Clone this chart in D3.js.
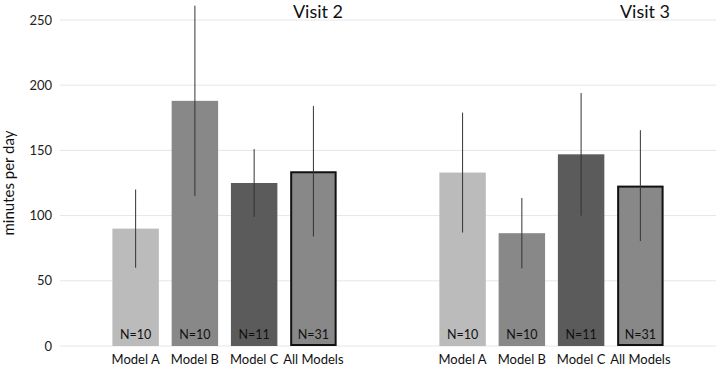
<!DOCTYPE html>
<html><head><meta charset="utf-8">
<script src="https://cdn.jsdelivr.net/npm/d3@7"></script>
<style>body{margin:0;background:#fff}svg{display:block;font-family:Lato,"Open Sans",sans-serif}</style>
</head><body><svg id="c" width="716" height="368"></svg>
<script>
const visits = ["Visit 2", "Visit 3"];
const models = ["Model A", "Model B", "Model C", "All Models"];
const means = { "Visit 2": [90, 188, 125, 134], "Visit 3": [133, 86.5, 147, 123] };
const errs  = { "Visit 2": [30, 73, 26, 50],    "Visit 3": [46, 27, 47, 42.5] };
const counts = { "Visit 2": ["N=10", "N=10", "N=11", "N=31"], "Visit 3": ["N=10", "N=10", "N=11", "N=31"] };
const yTicks = [0, 50, 100, 150, 200, 250];
const colors = ["#bbbbbb", "#888888", "#5b5b5b", "#888888"];

const svg = d3.select("#c");
const y = d3.scaleLinear().domain([0, 250]).range([346, 20]);
const x0 = d3.scaleBand().domain(visits).range([106, 670]).paddingInner(0.275).paddingOuter(0);
const x1 = d3.scaleBand().domain(models).range([0, x0.bandwidth()]).paddingInner(0.216).paddingOuter(0.108);

// grid
svg.append("g").selectAll("line").data(yTicks).join("line")
  .attr("x1", 60).attr("x2", 716).attr("y1", d => y(d)).attr("y2", d => y(d))
  .attr("stroke", "#e6e6e6").attr("stroke-width", 1);

// y axis labels
const yAxis = d3.axisLeft(y).tickValues(yTicks).tickSize(0).tickPadding(0);
const ya = svg.append("g").attr("transform", "translate(52,0)").call(yAxis);
ya.select(".domain").remove();
ya.selectAll("text").attr("font-size", 13).attr("fill", "#222").attr("font-family", "Lato, sans-serif");

svg.append("text").attr("transform", "translate(14," + y(125) + ") rotate(-90)")
  .attr("text-anchor", "middle").attr("font-size", 15).attr("fill", "#111").text("minutes per day");

visits.forEach(v => {
  const g = svg.append("g").attr("transform", "translate(" + x0(v) + ",0)");
  models.forEach((m, i) => {
    const bx = x1(m), bw = x1.bandwidth();
    const isAll = i === 3;
    g.append("rect").attr("x", bx + (isAll ? 1 : 0)).attr("y", y(means[v][i]) + (isAll ? 1 : 0))
      .attr("width", bw - (isAll ? 2 : 0)).attr("height", y(0) - y(means[v][i]) - (isAll ? 2 : 0))
      .attr("fill", colors[i]).attr("stroke", isAll ? "#111" : "none").attr("stroke-width", isAll ? 2 : 0);
    g.append("line").attr("x1", bx + bw / 2).attr("x2", bx + bw / 2)
      .attr("y1", y(means[v][i] + errs[v][i])).attr("y2", y(means[v][i] - errs[v][i]))
      .attr("stroke", "#333").attr("stroke-width", 1);
    g.append("text").attr("x", bx + bw / 2).attr("y", 339).attr("text-anchor", "middle")
      .attr("font-size", 12.5).attr("fill", "#111").text(counts[v][i]);
    g.append("text").attr("x", bx + bw / 2).attr("y", 364).attr("text-anchor", "middle")
      .attr("font-size", 13).attr("fill", "#111").text(m);
  });
  svg.append("text").attr("x", x0(v) + x0.bandwidth()).attr("y", 18).attr("text-anchor", "end")
    .attr("font-size", 18).attr("fill", "#111").text(v);
});
</script></body></html>
